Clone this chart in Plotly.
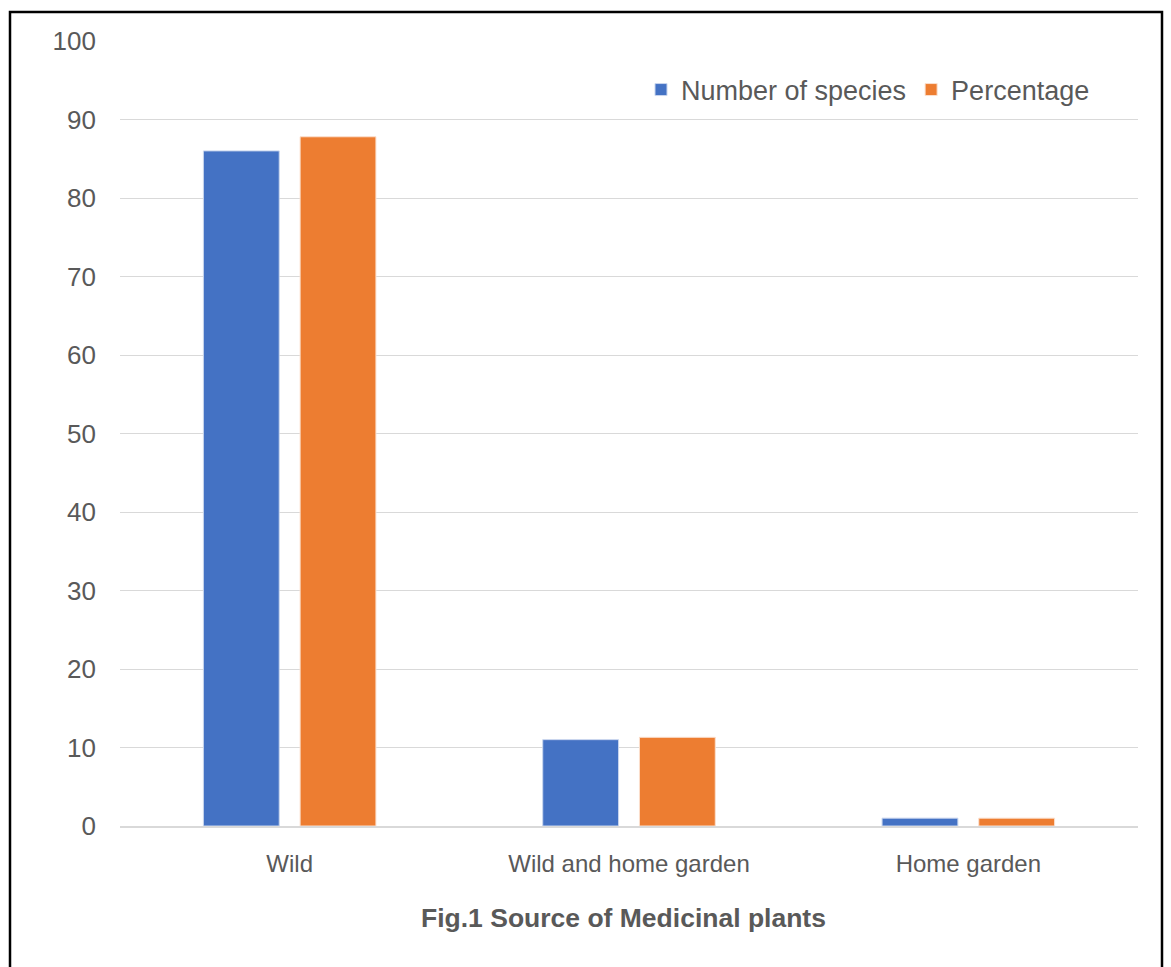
import plotly.graph_objects as go

# Source categories and values
categories = ["Wild", "Wild and home garden", "Home garden"]
num_species = [86, 11, 1]
percentage = [87.8, 11.3, 1.0]
y_ticks = [0, 10, 20, 30, 40, 50, 60, 70, 80, 90, 100]

W, H = 1171, 967
L, R, T, B = 120, 33, 41, 141
plot_w = W - L - R
plot_h = H - T - B


def px_x(px):
    return (px - L) / plot_w


def px_y(py):
    return (H - B - py) / plot_h


fig = go.Figure()
fig.add_trace(go.Bar(
    x=categories, y=num_species, name="Number of species",
    marker=dict(color="#4472c4", line=dict(color="#c9d6ee", width=1)),
))
fig.add_trace(go.Bar(
    x=categories, y=percentage, name="Percentage",
    marker=dict(color="#ed7d31", line=dict(color="#fbe0cf", width=1)),
))

fig.update_layout(
    width=W, height=H,
    margin=dict(l=L, r=R, t=T, b=B),
    paper_bgcolor="white", plot_bgcolor="white",
    barmode="group", bargap=0.43, bargroupgap=0.216,
    font=dict(family="Liberation Sans, Arial, sans-serif", color="#595959", size=24),
    showlegend=True,
    legend=dict(
        orientation="h", x=px_x(641), y=px_y(90), xanchor="left", yanchor="middle",
        font=dict(size=27, color="#595959"), bgcolor="rgba(0,0,0,0)",
        itemwidth=30, tracegroupgap=0,
    ),
    xaxis=dict(
        showgrid=False, showline=True, linecolor="#d9d9d9", linewidth=1.5,
        ticks="", ticklabelstandoff=15, tickfont=dict(size=24, color="#595959"),
        fixedrange=True,
    ),
    yaxis=dict(
        range=[0, 100], tickvals=y_ticks, showgrid=True, gridcolor="#d9d9d9",
        gridwidth=1, zeroline=False, showline=False, ticks="",
        ticklabelstandoff=23, tickfont=dict(size=26, color="#595959"),
        fixedrange=True,
    ),
    annotations=[dict(
        text="<b>Fig.1 Source of Medicinal plants</b>",
        xref="paper", yref="paper", x=px_x(623), y=px_y(918),
        xanchor="center", yanchor="middle", showarrow=False,
        font=dict(size=26.5, color="#595959"),
    )],
    shapes=[dict(
        type="rect", xref="paper", yref="paper",
        x0=px_x(10), x1=px_x(1162), y0=px_y(990), y1=px_y(12),
        line=dict(color="black", width=2.5), fillcolor="rgba(0,0,0,0)", layer="above",
    )],
)

fig.write_html("out.html", config={"displayModeBar": False})
